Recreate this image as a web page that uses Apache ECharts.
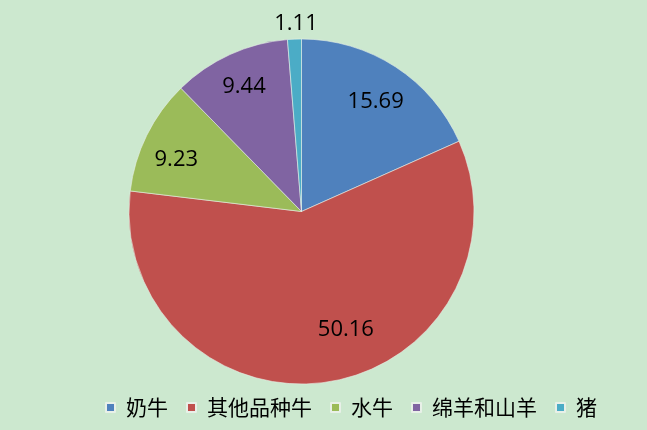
<!DOCTYPE html>
<html><head><meta charset="utf-8">
<script src="https://cdn.jsdelivr.net/npm/echarts@6/dist/echarts.min.js"></script>
<style>html,body{margin:0;padding:0;background:#CCE8CF}#c{width:647px;height:430px}</style>
</head><body><div id="c"></div>
<script>
const categories = ['奶牛', '其他品种牛', '水牛', '绵羊和山羊', '猪'];
const values = [15.69, 50.16, 9.23, 9.44, 1.11];
const colors = ['#4F81BD', '#C0504D', '#9BBB59', '#8064A2', '#4BACC6'];
const labelOffsets = [[0, 5], [24, -16], [-3, 8], [-1, -1], [0, -52]];

const chart = echarts.init(document.getElementById('c'));
const mainData = categories.map((n, i) => ({ name: n, value: values[i], itemStyle: { color: colors[i] } }));
const labelData = categories.map((n, i) => ({
  name: n, value: values[i],
  label: { offset: labelOffsets[i] }
}));
chart.setOption({
  backgroundColor: '#CCE8CF',
  animation: false,
  legend: {
    data: categories,
    left: 100,
    top: 392,
    itemWidth: 9,
    itemHeight: 9,
    itemGap: 18,
    icon: 'rect',
    textStyle: { fontFamily: 'Noto Sans CJK SC', fontSize: 21, color: '#000', padding: [0, 0, 0, 6] }
  },
  series: [
    {
      type: 'pie',
      center: [301.5, 211.5],
      radius: [0, 172.5],
      startAngle: 90,
      clockwise: true,
      data: mainData,
      label: { show: false },
      labelLine: { show: false },
      itemStyle: { borderColor: '#E8F0E8', borderWidth: 0.6 },
      silent: true
    },
    {
      type: 'pie',
      center: [301.5, 211.5],
      radius: [94, 172.5],
      startAngle: 90,
      clockwise: true,
      data: labelData,
      itemStyle: { color: 'rgba(0,0,0,0)' },
      label: {
        show: true, position: 'inside',
        formatter: p => p.value.toFixed(2),
        fontFamily: 'Open Sans', fontSize: 22, color: '#000'
      },
      labelLine: { show: false },
      silent: true,
      legendHoverLink: false
    }
  ]
});
</script></body></html>
